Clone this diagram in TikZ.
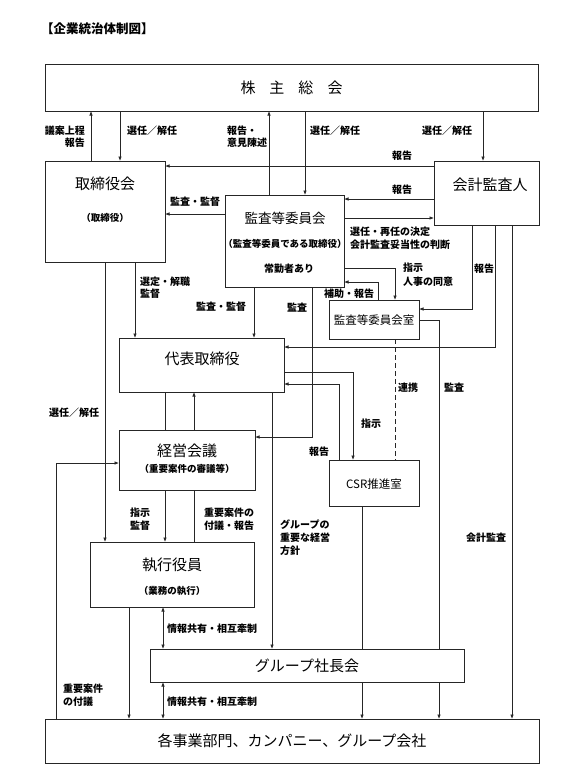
\documentclass[tikz,border=0pt]{standalone}
\usepackage{fontspec}
\setmainfont{Noto Sans CJK JP}
\usetikzlibrary{arrows.meta,calc}
\begin{document}
\begin{tikzpicture}[x=1pt,y=-1pt,
 box/.style={draw=black!85, line width=0.8pt, inner sep=0pt, outer sep=0pt},
 ln/.style={draw=black!85, line width=0.75pt},
 arr/.style={ln,-{Latex[length=4.5pt,width=3.6pt]}},
 darr/.style={ln,{Latex[length=4.5pt,width=3.6pt]}-{Latex[length=4.5pt,width=3.6pt]}},
 big/.style={font=\fontsize{15}{18}\selectfont, inner sep=0pt},
 mid/.style={font=\fontsize{11.5}{14}\selectfont, inner sep=0pt},
 paren/.style={font=\fontsize{9.5}{12}\selectfont\bfseries, inner sep=0pt},
 lab/.style={font=\fontsize{10}{12.5}\selectfont\bfseries, inner sep=0pt},
]
\useasboundingbox (0,0) rectangle (584,784);

% title
\node[font=\fontsize{12.5}{15}\selectfont\bfseries, anchor=west, inner sep=0pt] (title) at (41,29) {【企業統治体制図】};

% boxes
\node[box, minimum width=493pt, minimum height=47pt] (sh) at (291.5,87.5) {};
\node[box, minimum width=120pt, minimum height=101pt] (tb) at (105,211.5) {};
\node[box, minimum width=105pt, minimum height=64pt] (ka) at (486.5,193) {};
\node[box, minimum width=119pt, minimum height=92pt] (ki) at (284.5,241) {};
\node[box, minimum width=90pt, minimum height=39pt] (ks) at (374,319.5) {};
\node[box, minimum width=165pt, minimum height=54pt] (dt) at (201.5,365) {};
\node[box, minimum width=136pt, minimum height=60pt] (kk) at (187,460) {};
\node[box, minimum width=90pt, minimum height=46pt] (csr) at (374,483) {};
\node[box, minimum width=164pt, minimum height=65pt] (sy) at (172,574.5) {};
\node[box, minimum width=314pt, minimum height=33pt] (gs) at (307,665.5) {};
\node[box, minimum width=494pt, minimum height=44pt] (kj) at (292,741) {};

% box texts
\node[big] (tsh) at (291.5,88) {株\hspace{14pt}主\hspace{14pt}総\hspace{14pt}会};
\node[big] (ttb) at (105,184) {取締役会};
\node[paren] (ttb2) at (105,218) {（取締役）};
\node[big] (tka) at (490,185) {会計監査人};
\node[font=\fontsize{13.5}{16}\selectfont, inner sep=0pt] (tki) at (285,218) {監査等委員会};
\node[paren] (tki2) at (285,244) {（監査等委員である取締役）};
\node[lab] (tki3) at (289,269) {常勤者あり};
\node[mid] (tks) at (374,320) {監査等委員会室};
\node[big] (tdt) at (202,359) {代表取締役};
\node[big] (tkk) at (187,451) {経営会議};
\node[paren] (tkk2) at (187,469) {（重要案件の審議等）};
\node[mid] (tcsr) at (374,484) {CSR推進室};
\node[big] (tsy) at (172,565) {執行役員};
\node[paren] (tsy2) at (172,591) {（業務の執行）};
\node[big] (tgs) at (307,666) {グループ社長会};
\node[big] (tkj) at (292,741) {各事業部門、カンパニー、グループ会社};

% connectors
\draw[arr] (tb.north -| 91,0) -- (sh.south -| 91,0);
\draw[arr] (sh.south -| 120,0) -- (tb.north -| 120,0);
\draw[arr] (ki.north -| 269,0) -- (sh.south -| 269,0);
\draw[arr] (sh.south -| 305,0) -- (ki.north -| 305,0);
\draw[arr] (sh.south -| 483,0) -- (ka.north -| 483,0);
\draw[arr] (ka.west |- 0,166) -- (tb.east |- 0,166);
\draw[arr] (ka.west |- 0,199) -- (ki.east |- 0,199);
\draw[arr] (ki.east |- 0,218) -- (ka.west |- 0,218);
\draw[arr] (ki.west |- 0,214) -- (tb.east |- 0,214);
\draw[arr] (ki.east |- 0,268) -| (ks.north -| 395,0);
\draw[arr] (ks.north -| 378,0) |- (ki.east |- 0,282);
\draw[arr] (ka.south -| 472,0) |- (ks.east |- 0,309);
\draw[arr] (ka.south -| 495,0) |- (dt.east |- 0,347);
\draw[arr] (ka.south -| 512,0) -- (kj.north -| 512,0);
\draw[ln] (ks.east |- 0,320) -| (gs.north -| 439,0);
\draw[arr] (gs.south -| 439,0) -- (kj.north -| 439,0);
\draw[arr] (tb.south -| 105,0) -- (sy.north -| 105,0);
\draw[arr] (tb.south -| 135,0) -- (dt.north -| 135,0);
\draw[arr] (ki.south -| 254,0) -- (dt.north -| 254,0);
\draw[arr] (ki.south -| 312,0) |- (kk.east |- 0,437);
\draw[arr] (dt.east |- 0,372) -| (csr.north -| 353,0);
\draw[arr] (csr.north -| 339,0) |- (dt.east |- 0,384);
\draw[ln,dashed,dash pattern=on 5pt off 3pt] (ks.south -| 395,0) -- (csr.north -| 395,0);
\draw[ln] (dt.south -| 165,0) -- (kk.north -| 165,0);
\draw[arr] (kk.north -| 194,0) -- (dt.south -| 194,0);
\draw[arr] (dt.south -| 272,0) -- (gs.north -| 272,0);
\draw[arr] (kk.south -| 165,0) -- (sy.north -| 165,0);
\draw[ln] (sy.north -| 194,0) -- (kk.south -| 194,0);
\draw[arr] (kj.north -| 56,0) |- (kk.west |- 0,463);
\draw[arr] (sy.south -| 129,0) -- (kj.north -| 129,0);
\draw[darr] (sy.south -| 163,0) -- (gs.north -| 163,0);
\draw[darr] (gs.south -| 163,0) -- (kj.north -| 163,0);
\draw[ln] (csr.south -| 362,0) -- (gs.north -| 362,0);
\draw[arr] (gs.south -| 362,0) -- (kj.north -| 362,0);

% labels
\node[lab, anchor=east] (l1) at (85,131) {議案上程};
\node[lab, anchor=east] (l2) at (85,143) {報告};
\node[lab, anchor=west] (l3) at (127,131) {選任／解任};
\node[lab, anchor=west] (l4) at (227,131) {報告・};
\node[lab, anchor=west] (l5) at (227,143) {意見陳述};
\node[lab, anchor=west] (l6) at (310,131) {選任／解任};
\node[lab, anchor=west] (l7) at (422,131) {選任／解任};
\node[lab] (l8) at (402,156) {報告};
\node[lab] (l9) at (402,190) {報告};
\node[lab, anchor=west] (l10) at (350,232) {選任・再任の決定};
\node[lab, anchor=west] (l11) at (350,245) {会計監査妥当性の判断};
\node[lab] (l12) at (195,202) {監査・監督};
\node[lab, anchor=west] (l13) at (403,268) {指示};
\node[lab, anchor=west] (l14) at (403,282) {人事の同意};
\node[lab] (l15) at (349,294) {補助・報告};
\node[lab] (l16) at (484,269) {報告};
\node[lab] (l17) at (486,538) {会計監査};
\node[lab] (l18) at (454,388) {監査};
\node[lab] (l19) at (74,413) {選任／解任};
\node[lab, anchor=west] (l20) at (140,282) {選定・解職};
\node[lab, anchor=west] (l21) at (140,294) {監督};
\node[lab] (l22) at (221,307) {監査・監督};
\node[lab] (l23) at (297,308) {監査};
\node[lab] (l24) at (371,424) {指示};
\node[lab] (l25) at (319,452) {報告};
\node[lab] (l26) at (408,388) {連携};
\node[lab, anchor=west] (l27) at (280,525) {グループの};
\node[lab, anchor=west] (l28) at (280,538) {重要な経営};
\node[lab, anchor=west] (l29) at (280,551) {方針};
\node[lab] (l30) at (140,513) {指示};
\node[lab] (l31) at (140,526) {監督};
\node[lab, anchor=west] (l32) at (204,513) {重要案件の};
\node[lab, anchor=west] (l33) at (204,526) {付議・報告};
\node[lab, anchor=west] (l34) at (63,689) {重要案件};
\node[lab, anchor=west] (l35) at (63,702) {の付議};
\node[lab, anchor=west] (l36) at (167,629) {情報共有・相互牽制};
\node[lab, anchor=west] (l37) at (167,702) {情報共有・相互牽制};
\end{tikzpicture}
\end{document}
